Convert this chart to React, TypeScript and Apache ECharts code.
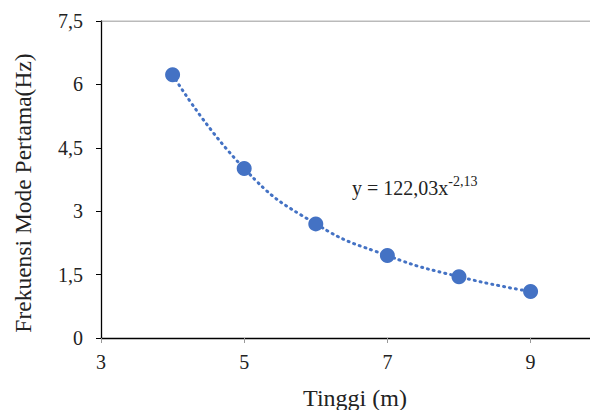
import React, { useEffect, useRef } from "react";
import * as echarts from "echarts";

const tinggi = [4, 5, 6, 7, 8, 9];
const frekuensi = [6.23, 4.01, 2.7, 1.95, 1.45, 1.1];
const xTicks = [3, 5, 7, 9];
const xTitle = "Tinggi (m)";
const yTitle = "Frekuensi Mode Pertama(Hz)";
const eqMain = "y = 122,03x";
const eqExp = "-2,13";

const FONT = "Times New Roman, Liberation Serif, serif";
const BLUE = "#4472C4";

export default function App() {
  const ref = useRef<HTMLDivElement>(null);
  useEffect(() => {
    if (!ref.current) return;
    const chart = echarts.init(ref.current, undefined, { renderer: "svg" });
    const pts = tinggi.map((x, i) => [x, frekuensi[i]]);
    chart.setOption({
      animation: false,
      backgroundColor: "#ffffff",
      grid: { left: 101, right: 0, top: 21, bottom: 72, containLabel: false, outerBoundsMode: "none" },
      xAxis: {
        type: "value",
        min: 3,
        max: 9.83,
        name: xTitle,
        nameLocation: "middle",
        nameGap: 48,
        nameTextStyle: { fontFamily: FONT, fontSize: 24, color: "#222", padding: [0, 0, 0, 19] },
        axisLine: { show: true, lineStyle: { color: "#000", width: 1.3 } },
        axisTick: { show: true, length: 5, customValues: xTicks, lineStyle: { color: "#999" } },
        axisLabel: {
          customValues: xTicks,
          fontFamily: FONT,
          fontSize: 20,
          color: "#222",
          margin: 14,
        },
        splitLine: { show: false },
      },
      yAxis: {
        type: "value",
        min: 0,
        max: 7.5,
        interval: 1.5,
        name: yTitle,
        nameLocation: "middle",
        nameGap: 66,
        nameTextStyle: { fontFamily: FONT, fontSize: 23.5, color: "#222", padding: [0, 27, 0, 0] },
        axisLine: { show: true, lineStyle: { color: "#000", width: 1.3 } },
        axisTick: { show: true, length: 5, lineStyle: { color: "#000" } },
        axisLabel: {
          fontFamily: FONT,
          fontSize: 20,
          color: "#222",
          margin: 18,
          formatter: (v: number) => String(v).replace(".", ","),
        },
        splitLine: { show: false },
      },
      series: [
        {
          type: "line",
          data: pts,
          smooth: true,
          showSymbol: false,
          symbol: "none",
          lineStyle: { color: BLUE, width: 3, type: [1, 5], cap: "round" },
          z: 2,
        },
        {
          type: "scatter",
          data: pts,
          symbolSize: 15,
          itemStyle: { color: BLUE, opacity: 1 },
          z: 3,
        },
        {
          type: "line",
          data: [[3, 7.5], [9.83, 7.5]],
          symbol: "none",
          silent: true,
          lineStyle: { color: "#777", width: 1 },
          z: 1,
        },
      ],
      graphic: [
        {
          type: "text",
          left: 352,
          top: 174,
          style: {
            text: "{m|" + eqMain + "}{e|" + eqExp + "}",
            rich: {
              m: { fontFamily: FONT, fontSize: 20, fill: "#222", verticalAlign: "bottom", lineHeight: 24 },
              e: { fontFamily: FONT, fontSize: 14, fill: "#222", verticalAlign: "top", lineHeight: 24, padding: [0, 0, 10, 0] },
            },
          },
        },
      ],
    });
    return () => chart.dispose();
  }, []);
  return (
    <div
      ref={ref}
      style={{ position: "absolute", left: 0, top: 0, width: 590, height: 410 }}
    />
  );
}
